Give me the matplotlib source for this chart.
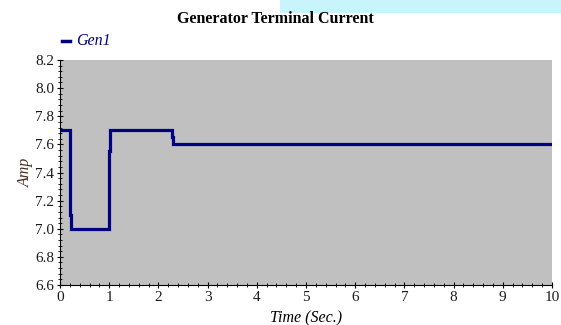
import numpy as np
import matplotlib
matplotlib.use("Agg")
import matplotlib.pyplot as plt
import matplotlib.patches as patches
from matplotlib.ticker import MultipleLocator

# generator terminal current, step trace
time_s = [0.0, 0.20, 0.20, 0.22, 0.22, 0.99, 0.99, 1.01, 1.01, 2.27, 2.27, 2.29, 2.29, 10.0]
current_amp = [7.7, 7.7, 7.1, 7.1, 7.0, 7.0, 7.55, 7.55, 7.7, 7.7, 7.65, 7.65, 7.6, 7.6]

x_ticks = [0, 1, 2, 3, 4, 5, 6, 7, 8, 9, 10]
y_ticks = [6.6, 6.8, 7.0, 7.2, 7.4, 7.6, 7.8, 8.0, 8.2]

serif = "Liberation Serif"
navy = "#000080"

fig = plt.figure(figsize=(5.61, 3.25), dpi=100)
fig.patch.set_facecolor("white")

# light cyan strip along the top edge
fig.patches.append(patches.Rectangle((280 / 561, 1 - 13 / 325), 1, 13 / 325,
                                     transform=fig.transFigure, facecolor="#c8f4fb",
                                     edgecolor="none", zorder=0))

ax = fig.add_axes([60 / 561, 40 / 325, 492 / 561, 225 / 325])
ax.set_facecolor("#c0c0c0")

ax.plot(time_s, current_amp, color=navy, lw=2.3, solid_joinstyle="miter")

ax.set_xlim(0, 10)
ax.set_ylim(6.6, 8.2)
ax.set_xticks(x_ticks)
ax.set_yticks(y_ticks)
ax.set_yticklabels([f"{v:.1f}" for v in y_ticks])
ax.xaxis.set_minor_locator(MultipleLocator(0.2))
ax.yaxis.set_minor_locator(MultipleLocator(0.04))

for side in ["top", "right"]:
    ax.spines[side].set_visible(False)
for side in ["left", "bottom"]:
    ax.spines[side].set_linewidth(0.8)

ax.tick_params(which="major", direction="inout", length=5, width=0.8,
               labelsize=11, pad=1.5)
ax.tick_params(which="minor", direction="inout", length=3, width=0.6)
for lab in ax.get_xticklabels() + ax.get_yticklabels():
    lab.set_fontfamily(serif)
    lab.set_color("#1a1a1a")

ax.set_xlabel("Time (Sec.)", fontfamily=serif, fontstyle="italic", fontsize=11.5,
              labelpad=5)
ax.set_ylabel("Amp", fontfamily=serif, fontstyle="italic", fontsize=11.5,
              color="#4a3020", labelpad=1)

fig.text(275 / 561, 1 - 19 / 325, "Generator Terminal Current", ha="center",
         va="center", fontfamily=serif, fontweight="bold", fontsize=11.5)

# legend entry
fig.lines.append(plt.Line2D([62 / 561, 70 / 561], [1 - 41 / 325, 1 - 41 / 325],
                            transform=fig.transFigure, color=navy, lw=2.5))
fig.text(76 / 561, 1 - 41 / 325, "Gen1", ha="left", va="center", color=navy,
         fontfamily=serif, fontstyle="italic", fontsize=11.5)

fig.savefig("out.png", dpi=100)
